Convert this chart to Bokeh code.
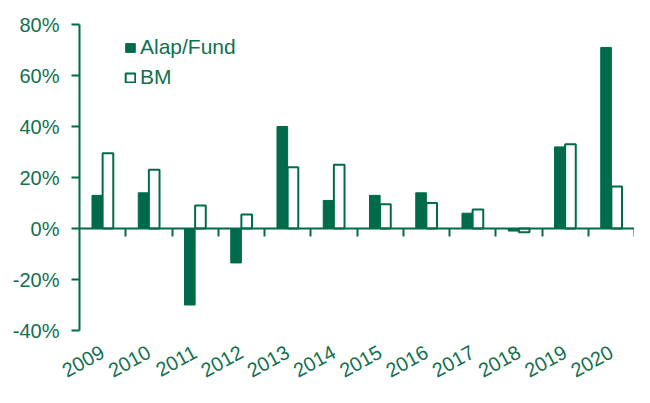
import numpy as np
from bokeh.plotting import figure
from bokeh.models import (ColumnDataSource, LinearAxis, FixedTicker, PrintfTickFormatter,
                          Range1d, Legend, LegendItem)
from bokeh.embed import file_html
from bokeh.resources import INLINE

years = ["2009", "2010", "2011", "2012", "2013", "2014", "2015", "2016", "2017", "2018", "2019", "2020"]
fund = [13.0, 14.0, -30.0, -13.5, 40.0, 11.0, 13.0, 14.0, 6.0, -1.0, 32.0, 71.0]
bm = [29.5, 23.0, 9.0, 5.5, 24.0, 25.0, 9.5, 10.0, 7.5, -1.5, 33.0, 16.5]
y_ticks = [-40, -20, 0, 20, 40, 60, 80]

GREEN = "#006B4B"
TEXT = "#12704F"
FONT = "Liberation Sans"

n = len(years)
xpos = np.arange(n)
bw = 0.23
src = ColumnDataSource(dict(x=xpos, xf=xpos - bw / 2, xb=xpos + bw / 2, fund=fund, bm=bm))

p = figure(width=634, height=387, output_backend="svg", toolbar_location=None,
           x_range=Range1d(-0.5, 11.5), y_range=Range1d(-40, 80),
           min_border_left=79, min_border_top=24, min_border_bottom=48, min_border_right=0,
           x_axis_type=None, y_axis_type=None)
p.outline_line_color = None
p.grid.visible = False
p.background_fill_color = "white"
p.border_fill_color = "white"

rf = p.vbar(x="xf", top="fund", bottom=0, width=bw, source=src, fill_color=GREEN,
            line_color=GREEN, line_width=1)
rb = p.vbar(x="xb", top="bm", bottom=0, width=bw, source=src, fill_color="white",
            line_color=GREEN, line_width=2)

# y axis
yax = LinearAxis(ticker=FixedTicker(ticks=y_ticks), formatter=PrintfTickFormatter(format="%d%%"))
yax.axis_line_color = GREEN
yax.axis_line_width = 2
yax.major_tick_line_color = GREEN
yax.major_tick_line_width = 2
yax.major_tick_out = 8
yax.major_tick_in = 0
yax.minor_tick_line_color = None
yax.major_label_text_color = TEXT
yax.major_label_text_font = FONT
yax.major_label_text_font_size = "20px"
yax.major_label_standoff = 12
p.add_layout(yax, "left")

# zero line with ticks between categories
zax = LinearAxis(ticker=FixedTicker(ticks=list(xpos + 0.5)), fixed_location=0)
zax.axis_line_color = GREEN
zax.axis_line_width = 2
zax.major_tick_line_color = GREEN
zax.major_tick_line_width = 2
zax.major_tick_out = 8
zax.major_tick_in = 0
zax.minor_tick_line_color = None
zax.major_label_text_color = None
zax.major_label_text_font_size = "0px"
p.add_layout(zax, "below")

# category labels
xax = LinearAxis(ticker=FixedTicker(ticks=list(xpos)),
                 major_label_overrides={int(i): y for i, y in zip(xpos, years)})
xax.axis_line_color = None
xax.major_tick_line_color = None
xax.minor_tick_line_color = None
xax.major_label_text_color = TEXT
xax.major_label_text_font = FONT
xax.major_label_text_font_size = "20px"
xax.major_label_orientation = 0.5
xax.major_label_standoff = 14
p.add_layout(xax, "below")

legend = Legend(items=[LegendItem(label="Alap/Fund", renderers=[rf]),
                       LegendItem(label="BM", renderers=[rb])],
                location=(45, 241))
legend.background_fill_color = None
legend.border_line_color = None
legend.padding = 0
legend.margin = 0
legend.glyph_width = 12
legend.glyph_height = 11
legend.label_height = 24
legend.spacing = 6
legend.label_standoff = 4
legend.label_text_font = FONT
legend.label_text_font_size = "21px"
legend.label_text_color = TEXT
p.add_layout(legend, "center")

open("out.html", "w").write(file_html(p, INLINE))
